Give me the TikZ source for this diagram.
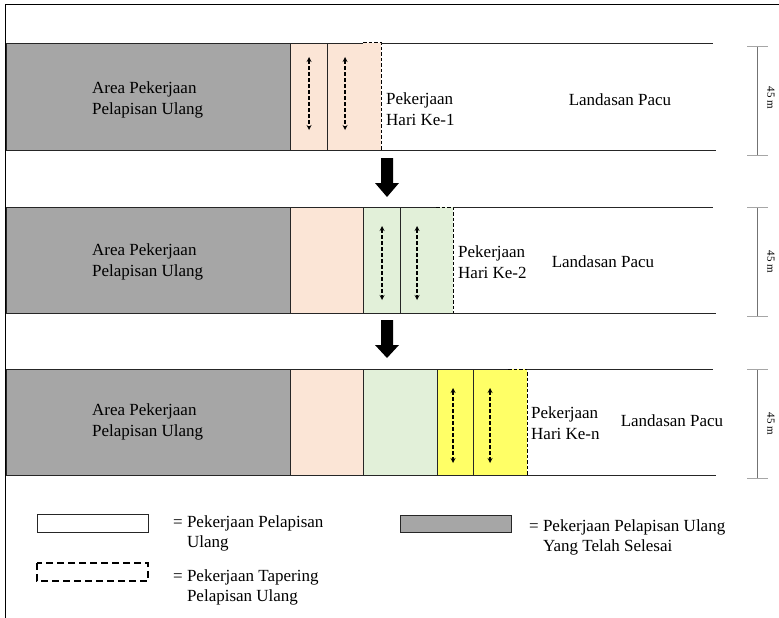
\documentclass[tikz,border=0pt]{standalone}
\usepackage{fontspec}
\setmainfont{Liberation Serif}
\definecolor{graydone}{HTML}{A6A6A6}
\definecolor{pinkday}{HTML}{FBE5D6}
\definecolor{greenday}{HTML}{E2F0D9}
\definecolor{yellowday}{HTML}{FFFF66}
\tikzset{
  lane/.style={line width=0.9pt, draw=black!85},
  taper/.style={line width=1pt, draw=black, dash pattern=on 3.5pt off 2pt},
  pave/.style={dash pattern=on 3.5pt off 2.5pt, <->, >=stealth, line width=1.2pt},
  dimline/.style={line width=0.8pt, draw=black!55},
  dimtick/.style={line width=0.8pt, draw=black!35},
  txt/.style={inner sep=0pt, align=left},
}

\begin{document}
\begin{tikzpicture}[x=1pt, y=-1pt, font=\fontsize{17}{20.5}\selectfont]
		%%%%% START %%%%%
		\useasboundingbox (0,0) rectangle (779,618);
		
		\draw[line width=1pt] (5,618) -- (5,5) -- (779,5);
		
		%%%%% HARI KE-1 %%%%%
		\draw[lane, fill=graydone] (6,43) rectangle (290,150);
		\draw[lane, fill=pinkday] (290,43) rectangle (327,150);
		\draw[lane, fill=pinkday] (327,43) rectangle (363,150);
		\fill[pinkday] (363,43) rectangle (381,150);
		\draw[taper] (363,43) -- (381,43) -- (381,150);
		\draw[lane] (381,43) -- (713,43);
		\draw[lane] (290,150) -- (716,150);
		\draw[pave] (309,57) -- (309,130);
		\draw[pave] (345,57) -- (345,130);
		\node[txt, anchor=west] (area1) at (92,100) {Area Pekerjaan\\Pelapisan Ulang};
		\node[txt, anchor=west] (work1) at (386,109) {Pekerjaan\\Hari Ke-1};
		\node[txt] (runway1) at (620,100) {Landasan Pacu};
		
		\draw[dimline] (757,46) -- (757,155);
		\draw[dimtick] (747,46) -- (768,46);
		\draw[dimtick] (747,155) -- (768,155);
		\node[txt, rotate=-90, font=\fontsize{11}{13}\selectfont] (dim1) at (771,98) {45 m};
		
		\fill (381,158) -- (393,158) -- (393,183) -- (399,183) -- (387,197) -- (375,183) -- (381,183) -- cycle;
		
		%%%%% HARI KE-2 %%%%%
		\draw[lane, fill=graydone] (6,207) rectangle (290,313);
		\draw[lane, fill=pinkday] (290,207) rectangle (363,313);
		\draw[lane, fill=greenday] (363,207) rectangle (400,313);
		\draw[lane, fill=greenday] (400,207) rectangle (436,313);
		\fill[greenday] (436,207) rectangle (453,313);
		\draw[taper] (436,207) -- (453,207) -- (453,313);
		\draw[lane] (453,207) -- (713,207);
		\draw[lane] (363,313) -- (716,313);
		\draw[pave] (382,226) -- (382,300);
		\draw[pave] (417,226) -- (417,300);
		\node[txt, anchor=west] (area2) at (92,262) {Area Pekerjaan\\Pelapisan Ulang};
		\node[txt, anchor=west] (work2) at (458,262) {Pekerjaan\\Hari Ke-2};
		\node[txt] (runway2) at (603,262) {Landasan Pacu};
		
		\draw[dimline] (757,207) -- (757,316);
		\draw[dimtick] (747,207) -- (768,207);
		\draw[dimtick] (747,316) -- (768,316);
		\node[txt, rotate=-90, font=\fontsize{11}{13}\selectfont] (dim2) at (771,262) {45 m};
		
		\fill (381,320) -- (393,320) -- (393,345) -- (399,345) -- (387,358) -- (375,345) -- (381,345) -- cycle;
		
		%%%%% HARI KE-N %%%%%
		\draw[lane, fill=graydone] (6,369) rectangle (290,475);
		\draw[lane, fill=pinkday] (290,369) rectangle (363,475);
		\draw[lane, fill=greenday] (363,369) rectangle (437,475);
		\draw[lane, fill=yellowday] (437,369) rectangle (473,475);
		\draw[lane, fill=yellowday] (473,369) rectangle (508,475);
		\fill[yellowday] (508,369) rectangle (527,475);
		\draw[taper] (508,369) -- (527,369) -- (527,475);
		\draw[lane] (527,369) -- (713,369);
		\draw[lane] (437,475) -- (716,475);
		\draw[pave] (453,388) -- (453,463);
		\draw[pave] (490,388) -- (490,463);
		\node[txt, anchor=west] (area3) at (92,422) {Area Pekerjaan\\Pelapisan Ulang};
		\node[txt, anchor=west] (work3) at (531,423) {Pekerjaan\\Hari Ke-n};
		\node[txt] (runway3) at (672,421) {Landasan Pacu};
		
		\draw[dimline] (757,369) -- (757,478);
		\draw[dimtick] (747,369) -- (768,369);
		\draw[dimtick] (747,478) -- (768,478);
		\node[txt, rotate=-90, font=\fontsize{11}{13}\selectfont] (dim3) at (771,424) {45 m};
		
		%%%%% LEGENDA %%%%%
		\draw[lane] (37,514) rectangle (148,532);
		\node[txt, anchor=north west] (leg1) at (173,515) {=~Pekerjaan Pelapisan\\\phantom{=~}Ulang};
		\draw[line width=1.1pt, dash pattern=on 7pt off 4pt] (37,563) rectangle (148,581);
		\node[txt, anchor=north west] (leg2) at (173,569) {=~Pekerjaan Tapering\\\phantom{=~}Pelapisan Ulang};
		\draw[lane, fill=graydone] (400,515) rectangle (511,532);
		\node[txt, anchor=north west] (leg3) at (529,519) {=~Pekerjaan Pelapisan Ulang\\\phantom{=~}Yang Telah Selesai};
		
		%%%%% END %%%%%
	\end{tikzpicture}
\end{document}
